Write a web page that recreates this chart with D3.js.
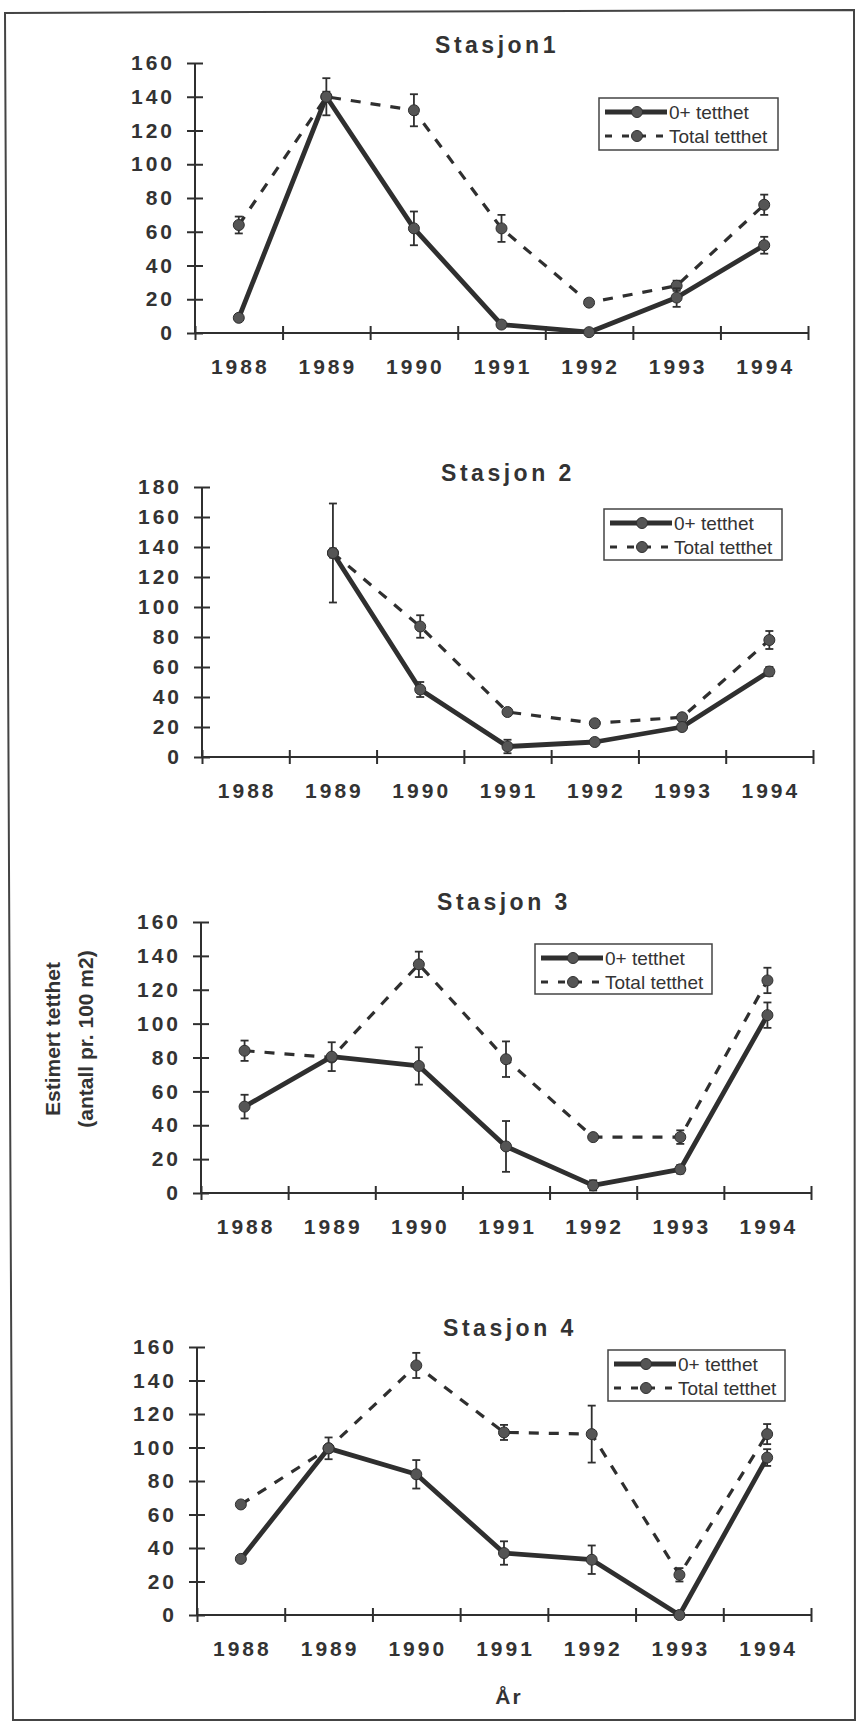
<!DOCTYPE html>
<html>
<head>
<meta charset="utf-8">
<script src="https://cdn.jsdelivr.net/npm/d3@7"></script>
<style>
  body { margin: 0; background: #fff; }
  svg { display: block; }
  text { font-family: "Liberation Sans", Arial, sans-serif; fill: #333; }
</style>
</head>
<body>
<svg id="chart" width="856" height="1723"></svg>
<script>
// years on x axis
const years = ['1988', '1989', '1990', '1991', '1992', '1993', '1994'];
const seriesNames = ['0+ tetthet', 'Total tetthet'];

// Stasjon 1
const s1Zero = [9, 140, 62, 5, 0.5, 21, 52];
const s1ZeroErr = [1, 11, 10, 2, 1, 5.5, 5];
const s1Total = [64, 140, 132, 62, 18, 28, 76];
const s1TotalErr = [5, 3, 9.5, 8, 1, 3, 6];

// Stasjon 2 (no 1988 values)
const s2Zero = [null, 136, 45, 7, 10, 20, 57];
const s2ZeroErr = [null, 33, 5, 4.5, 1, 2, 3];
const s2Total = [null, 136, 87, 30, 22.5, 26.5, 78];
const s2TotalErr = [null, 3, 7.5, 2, 1.5, 2, 6];

// Stasjon 3
const s3Zero = [51, 80.5, 75, 27.5, 4.5, 14, 105];
const s3ZeroErr = [7, 8.5, 11, 15, 3, 2.5, 7.5];
const s3Total = [84, 80, 135, 79, 33, 33, 125.5];
const s3TotalErr = [6, 2, 7.5, 10.5, 1, 4, 7.5];

// Stasjon 4
const s4Zero = [33.5, 99.5, 84, 37, 33, 0, 94];
const s4ZeroErr = [1, 6.5, 8.5, 7, 8.5, 0, 5];
const s4Total = [66, 99.5, 149, 109, 108, 24, 108];
const s4TotalErr = [1, 2, 7.5, 4.5, 17, 4, 6];

const yTicks160 = [0, 20, 40, 60, 80, 100, 120, 140, 160];
const yTicks180 = [0, 20, 40, 60, 80, 100, 120, 140, 160, 180];

// layout of each panel (pixel boxes)
const panels = [
  { title: 'Stasjon1', zero: s1Zero, zeroErr: s1ZeroErr, total: s1Total, totalErr: s1TotalErr,
    yMax: 160, ticks: yTicks160, x0: 195, x1: 808, yTop: 63, yBot: 333, titleX: 497, titleY: 45,
    legend: { x: 599, y: 98, w: 179, h: 52 } },
  { title: 'Stasjon 2', zero: s2Zero, zeroErr: s2ZeroErr, total: s2Total, totalErr: s2TotalErr,
    yMax: 180, ticks: yTicks180, x0: 202, x1: 813, yTop: 487, yBot: 757, titleX: 508, titleY: 473,
    legend: { x: 604, y: 509, w: 178, h: 51 } },
  { title: 'Stasjon 3', zero: s3Zero, zeroErr: s3ZeroErr, total: s3Total, totalErr: s3TotalErr,
    yMax: 160, ticks: yTicks160, x0: 201, x1: 811, yTop: 922, yBot: 1193, titleX: 504, titleY: 902,
    legend: { x: 535, y: 944, w: 177, h: 50 } },
  { title: 'Stasjon 4', zero: s4Zero, zeroErr: s4ZeroErr, total: s4Total, totalErr: s4TotalErr,
    yMax: 160, ticks: yTicks160, x0: 197, x1: 811, yTop: 1347, yBot: 1615, titleX: 510, titleY: 1328,
    legend: { x: 608, y: 1350, w: 177, h: 51 } }
];

const ink = '#2f2f2f';
const svg = d3.select('#chart');

// scanned page frame
svg.append('path')
  .attr('d', 'M5,13 L854,10 L855,1720 L13,1720 Z')
  .attr('fill', 'none')
  .attr('stroke', '#444')
  .attr('stroke-width', 2);

function drawSeries(g, x, y, vals, errs, dashed) {
  const pts = years.map((yr, i) => ({ yr, v: vals[i], e: errs[i] })).filter(d => d.v != null);

  const line = d3.line().x(d => x(d.yr) + x.bandwidth() / 2).y(d => y(d.v));
  g.append('path')
    .datum(pts)
    .attr('d', line)
    .attr('fill', 'none')
    .attr('stroke', ink)
    .attr('stroke-width', dashed ? 3.2 : 4.8)
    .attr('stroke-dasharray', dashed ? '10,10' : null)
    .attr('stroke-linejoin', 'round');

  const eb = g.append('g').attr('stroke', ink).attr('stroke-width', 1.8);
  pts.filter(d => d.e > 0).forEach(d => {
    const cx = x(d.yr) + x.bandwidth() / 2;
    const lo = y(Math.max(0, d.v - d.e)), hi = y(d.v + d.e);
    eb.append('line').attr('x1', cx).attr('x2', cx).attr('y1', lo).attr('y2', hi);
    eb.append('line').attr('x1', cx - 4).attr('x2', cx + 4).attr('y1', lo).attr('y2', lo);
    eb.append('line').attr('x1', cx - 4).attr('x2', cx + 4).attr('y1', hi).attr('y2', hi);
  });

  g.selectAll(null)
    .data(pts)
    .enter()
    .append('circle')
    .attr('cx', d => x(d.yr) + x.bandwidth() / 2)
    .attr('cy', d => y(d.v))
    .attr('r', 5.5)
    .attr('fill', '#555')
    .attr('stroke', ink)
    .attr('stroke-width', 1);
}

panels.forEach(p => {
  const g = svg.append('g');
  const x = d3.scaleBand().domain(years).range([p.x0, p.x1]).padding(0);
  const y = d3.scaleLinear().domain([0, p.yMax]).range([p.yBot, p.yTop]);
  const xEdges = d3.scaleLinear().domain([0, years.length]).range([p.x0, p.x1]);

  // title
  g.append('text')
    .attr('x', p.titleX)
    .attr('y', p.titleY)
    .attr('dy', '0.35em')
    .attr('text-anchor', 'middle')
    .attr('font-size', 23)
    .attr('font-weight', 'bold')
    .attr('letter-spacing', 3.5)
    .text(p.title);

  // y axis
  const yAxis = g.append('g')
    .attr('transform', `translate(${p.x0},0)`)
    .call(d3.axisLeft(y).tickValues(p.ticks).tickSize(8).tickPadding(12));
  yAxis.select('.domain').attr('d', `M0,${p.yTop}V${p.yBot}`).attr('stroke', ink).attr('stroke-width', 2);
  yAxis.selectAll('.tick line').attr('x1', -8).attr('x2', 8).attr('stroke', ink).attr('stroke-width', 2);
  yAxis.selectAll('.tick text')
    .attr('font-size', 21)
    .attr('font-weight', 'bold')
    .attr('letter-spacing', 3)
    .attr('font-family', '"Liberation Sans", Arial, sans-serif')
    .attr('fill', '#333');

  // x axis with ticks on band edges
  const xAxis = g.append('g')
    .attr('transform', `translate(0,${p.yBot})`)
    .call(d3.axisBottom(xEdges).tickValues(d3.range(years.length + 1)).tickSize(7).tickFormat(''));
  xAxis.select('.domain').attr('d', `M${p.x0},0H${p.x1}`).attr('stroke', ink).attr('stroke-width', 2);
  xAxis.selectAll('.tick line').attr('y1', -7).attr('y2', 7).attr('stroke', ink).attr('stroke-width', 2);

  g.selectAll(null)
    .data(years)
    .enter()
    .append('text')
    .attr('x', d => x(d) + x.bandwidth() / 2 + 1.5)
    .attr('y', p.yBot + 34)
    .attr('dy', '0.35em')
    .attr('text-anchor', 'middle')
    .attr('font-size', 21)
    .attr('font-weight', 'bold')
    .attr('letter-spacing', 3)
    .text(d => d);

  drawSeries(g, x, y, p.total, p.totalErr, true);
  drawSeries(g, x, y, p.zero, p.zeroErr, false);

  // legend
  const L = p.legend;
  const lg = g.append('g').attr('transform', `translate(${L.x},${L.y})`);
  lg.append('rect')
    .attr('width', L.w).attr('height', L.h)
    .attr('fill', '#fff').attr('stroke', '#444').attr('stroke-width', 1.5);
  seriesNames.forEach((name, i) => {
    const ry = 14 + i * 24;
    const dashed = i === 1;
    lg.append('line')
      .attr('x1', 6).attr('x2', 68).attr('y1', ry).attr('y2', ry)
      .attr('stroke', ink)
      .attr('stroke-width', dashed ? 3.2 : 4.8)
      .attr('stroke-dasharray', dashed ? '7,10' : null);
    lg.append('circle').attr('cx', 38).attr('cy', ry).attr('r', 5.5).attr('fill', '#555').attr('stroke', ink);
    lg.append('text')
      .attr('x', 70).attr('y', ry).attr('dy', '0.35em')
      .attr('font-size', 19)
      .text(name);
  });
});

// shared axis titles
svg.append('text')
  .attr('transform', 'translate(53,1039) rotate(-90)')
  .attr('dy', '0.35em')
  .attr('text-anchor', 'middle')
  .attr('font-size', 21)
  .attr('font-weight', 'bold')
  .text('Estimert tetthet');
svg.append('text')
  .attr('transform', 'translate(86,1039) rotate(-90)')
  .attr('dy', '0.35em')
  .attr('text-anchor', 'middle')
  .attr('font-size', 21)
  .attr('font-weight', 'bold')
  .text('(antall pr. 100 m2)');
svg.append('text')
  .attr('x', 509)
  .attr('y', 1697)
  .attr('dy', '0.35em')
  .attr('text-anchor', 'middle')
  .attr('font-size', 21)
  .attr('font-weight', 'bold')
  .attr('letter-spacing', 2)
  .text('År');
</script>
</body>
</html>
